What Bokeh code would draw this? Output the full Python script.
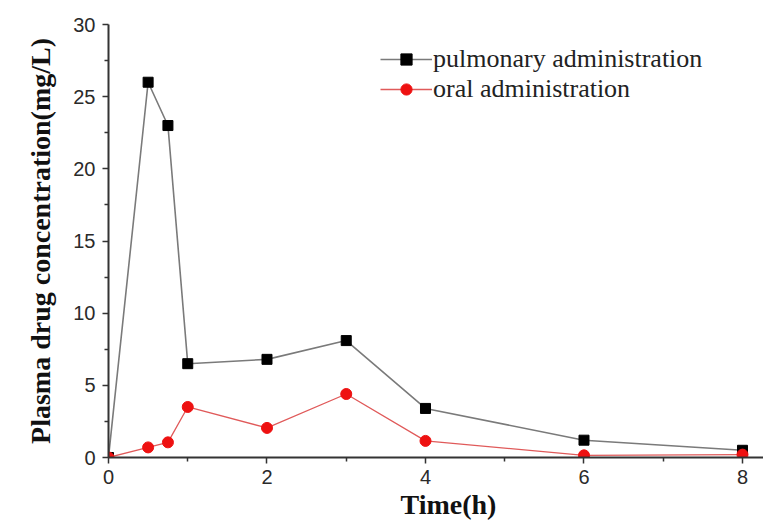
from bokeh.plotting import figure
from bokeh.models import FixedTicker, Legend, LegendItem, Title, Range1d
from bokeh.embed import file_html
from bokeh.resources import INLINE

# Data
time_h = [0, 0.5, 0.75, 1, 2, 3, 4, 6, 8]
pulmonary = [0, 26.0, 23.0, 6.5, 6.8, 8.1, 3.4, 1.2, 0.5]
oral = [0, 0.7, 1.05, 3.5, 2.05, 4.4, 1.15, 0.15, 0.2]

x_major = [0, 2, 4, 6, 8]
x_minor = [1, 3, 5, 7]
y_major = [0, 5, 10, 15, 20, 25, 30]
y_minor = [2.5, 7.5, 12.5, 17.5, 22.5, 27.5]

p = figure(width=763, height=522, output_backend="svg", toolbar_location=None,
           x_range=Range1d(0, 8.265), y_range=Range1d(0, 30),
           min_border_left=108, min_border_right=0, min_border_top=24,
           min_border_bottom=65)
p.outline_line_color = None
p.xgrid.visible = False
p.ygrid.visible = False
p.background_fill_color = "white"
p.border_fill_color = "white"

l1 = p.line(time_h, pulmonary, line_color="#7a7a7a", line_width=1.6)
m1 = p.scatter(time_h, pulmonary, marker="square", size=10, fill_color="black",
               line_color="black")
l2 = p.line(time_h, oral, line_color="#e05a5a", line_width=1.3)
m2 = p.scatter(time_h, oral, marker="circle", size=11, fill_color="#ee1111",
               line_color="#ee1111")

for ax in (p.xaxis[0], p.yaxis[0]):
    ax.axis_line_color = "#333333"
    ax.axis_line_width = 2
    ax.major_tick_line_color = "#333333"
    ax.minor_tick_line_color = "#333333"
    ax.major_tick_line_width = 1.5
    ax.minor_tick_line_width = 1.5
    ax.major_tick_in = 0
    ax.major_tick_out = 6
    ax.minor_tick_in = 0
    ax.minor_tick_out = 4
    ax.major_label_text_font = "Liberation Sans"
    ax.major_label_text_font_size = "20px"
    ax.major_label_text_color = "#2a2a2a"

p.xaxis[0].ticker = FixedTicker(ticks=x_major, minor_ticks=x_minor)
p.yaxis[0].ticker = FixedTicker(ticks=y_major, minor_ticks=y_minor)
p.xaxis[0].major_label_standoff = 6
p.yaxis[0].major_label_standoff = 7

p.yaxis[0].axis_label = "Plasma drug concentration(mg/L)"
p.yaxis[0].axis_label_text_font = "Liberation Serif"
p.yaxis[0].axis_label_text_font_style = "bold"
p.yaxis[0].axis_label_text_font_size = "28px"
p.yaxis[0].axis_label_text_color = "#111111"
p.yaxis[0].axis_label_standoff = 14

xtitle = Title(text="Time(h)", align="left", offset=292, standoff=0,
               text_font="Liberation Serif", text_font_style="bold",
               text_font_size="28px", text_color="#111111")
p.add_layout(xtitle, "below")

legend = Legend(items=[
    LegendItem(label="pulmonary administration", renderers=[l1, m1]),
    LegendItem(label="oral administration", renderers=[l2, m2]),
], location=(272, 353))
legend.background_fill_alpha = 0
legend.border_line_color = None
legend.padding = 0
legend.margin = 0
legend.spacing = 0
legend.glyph_width = 52
legend.glyph_height = 28
legend.label_height = 28
legend.label_standoff = 1
legend.label_text_font = "Liberation Serif"
legend.label_text_font_size = "26px"
legend.label_text_color = "#222222"
p.add_layout(legend, "center")

open("out.html", "w").write(file_html(p, INLINE))
